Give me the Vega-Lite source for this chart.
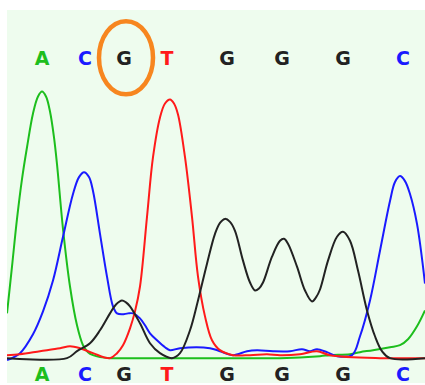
{
  "$schema": "https://vega.github.io/schema/vega-lite/v6.json",
  "width": 425,
  "height": 385,
  "autosize": {"type": "fit", "contains": "padding"},
  "padding": {"left": 7, "top": 10, "right": 0, "bottom": 0},
  "background": "#ffffff",
  "config": {"view": {"stroke": null, "fill": "#EEFCEE"}},
  "datasets": {
    "traces": [
      {"base": "A", "scan": 7, "signal": 45}, {"base": "A", "scan": 12, "signal": 92}, {"base": "A", "scan": 17, "signal": 140},
      {"base": "A", "scan": 22, "signal": 180}, {"base": "A", "scan": 27, "signal": 212}, {"base": "A", "scan": 33, "signal": 246},
      {"base": "A", "scan": 38, "signal": 263}, {"base": "A", "scan": 42, "signal": 268}, {"base": "A", "scan": 46, "signal": 263},
      {"base": "A", "scan": 50, "signal": 248}, {"base": "A", "scan": 54, "signal": 222}, {"base": "A", "scan": 57, "signal": 195},
      {"base": "A", "scan": 63, "signal": 130}, {"base": "A", "scan": 70, "signal": 72}, {"base": "A", "scan": 77, "signal": 33},
      {"base": "A", "scan": 83, "signal": 13}, {"base": "A", "scan": 88, "signal": 6}, {"base": "A", "scan": 93, "signal": 3},
      {"base": "A", "scan": 100, "signal": 1}, {"base": "A", "scan": 110, "signal": 0}, {"base": "A", "scan": 140, "signal": 0},
      {"base": "A", "scan": 220, "signal": 0}, {"base": "A", "scan": 280, "signal": 0}, {"base": "A", "scan": 320, "signal": 2},
      {"base": "A", "scan": 330, "signal": 3}, {"base": "A", "scan": 350, "signal": 4}, {"base": "A", "scan": 360, "signal": 6},
      {"base": "A", "scan": 373, "signal": 8}, {"base": "A", "scan": 390, "signal": 11}, {"base": "A", "scan": 400, "signal": 13},
      {"base": "A", "scan": 408, "signal": 19}, {"base": "A", "scan": 417, "signal": 32}, {"base": "A", "scan": 425, "signal": 48},

      {"base": "C", "scan": 7, "signal": -2}, {"base": "C", "scan": 20, "signal": 5}, {"base": "C", "scan": 33, "signal": 24},
      {"base": "C", "scan": 43, "signal": 47}, {"base": "C", "scan": 53, "signal": 78}, {"base": "C", "scan": 63, "signal": 122},
      {"base": "C", "scan": 73, "signal": 165}, {"base": "C", "scan": 79, "signal": 182}, {"base": "C", "scan": 84, "signal": 187},
      {"base": "C", "scan": 89, "signal": 182}, {"base": "C", "scan": 93, "signal": 168}, {"base": "C", "scan": 100, "signal": 125},
      {"base": "C", "scan": 107, "signal": 82}, {"base": "C", "scan": 113, "signal": 52}, {"base": "C", "scan": 117, "signal": 45},
      {"base": "C", "scan": 122, "signal": 44}, {"base": "C", "scan": 128, "signal": 45}, {"base": "C", "scan": 133, "signal": 45},
      {"base": "C", "scan": 140, "signal": 40}, {"base": "C", "scan": 145, "signal": 33}, {"base": "C", "scan": 150, "signal": 25},
      {"base": "C", "scan": 157, "signal": 18}, {"base": "C", "scan": 165, "signal": 11}, {"base": "C", "scan": 170, "signal": 8},
      {"base": "C", "scan": 180, "signal": 10}, {"base": "C", "scan": 210, "signal": 10}, {"base": "C", "scan": 220, "signal": 7},
      {"base": "C", "scan": 233, "signal": 3}, {"base": "C", "scan": 247, "signal": 7}, {"base": "C", "scan": 257, "signal": 8},
      {"base": "C", "scan": 273, "signal": 7}, {"base": "C", "scan": 290, "signal": 7}, {"base": "C", "scan": 302, "signal": 9},
      {"base": "C", "scan": 310, "signal": 7}, {"base": "C", "scan": 317, "signal": 9}, {"base": "C", "scan": 327, "signal": 6},
      {"base": "C", "scan": 337, "signal": 2}, {"base": "C", "scan": 352, "signal": 3}, {"base": "C", "scan": 360, "signal": 22},
      {"base": "C", "scan": 370, "signal": 58}, {"base": "C", "scan": 380, "signal": 108}, {"base": "C", "scan": 390, "signal": 158},
      {"base": "C", "scan": 395, "signal": 177}, {"base": "C", "scan": 400, "signal": 183}, {"base": "C", "scan": 405, "signal": 178},
      {"base": "C", "scan": 410, "signal": 165}, {"base": "C", "scan": 417, "signal": 135}, {"base": "C", "scan": 425, "signal": 75},

      {"base": "T", "scan": 7, "signal": 3}, {"base": "T", "scan": 20, "signal": 4}, {"base": "T", "scan": 40, "signal": 7},
      {"base": "T", "scan": 60, "signal": 10}, {"base": "T", "scan": 70, "signal": 12}, {"base": "T", "scan": 80, "signal": 10},
      {"base": "T", "scan": 93, "signal": 5}, {"base": "T", "scan": 110, "signal": 0}, {"base": "T", "scan": 117, "signal": 5},
      {"base": "T", "scan": 123, "signal": 13}, {"base": "T", "scan": 130, "signal": 30}, {"base": "T", "scan": 135, "signal": 47},
      {"base": "T", "scan": 140, "signal": 72}, {"base": "T", "scan": 147, "signal": 142}, {"base": "T", "scan": 153, "signal": 202},
      {"base": "T", "scan": 160, "signal": 242}, {"base": "T", "scan": 165, "signal": 256}, {"base": "T", "scan": 170, "signal": 260},
      {"base": "T", "scan": 174, "signal": 256}, {"base": "T", "scan": 178, "signal": 245}, {"base": "T", "scan": 185, "signal": 202},
      {"base": "T", "scan": 192, "signal": 142}, {"base": "T", "scan": 198, "signal": 82}, {"base": "T", "scan": 205, "signal": 42},
      {"base": "T", "scan": 212, "signal": 18}, {"base": "T", "scan": 220, "signal": 8}, {"base": "T", "scan": 233, "signal": 3},
      {"base": "T", "scan": 250, "signal": 3}, {"base": "T", "scan": 267, "signal": 4}, {"base": "T", "scan": 280, "signal": 3},
      {"base": "T", "scan": 300, "signal": 4}, {"base": "T", "scan": 317, "signal": 7}, {"base": "T", "scan": 330, "signal": 3},
      {"base": "T", "scan": 380, "signal": 0}, {"base": "T", "scan": 425, "signal": 0},

      {"base": "G", "scan": 7, "signal": 0}, {"base": "G", "scan": 67, "signal": 0}, {"base": "G", "scan": 77, "signal": 7},
      {"base": "G", "scan": 90, "signal": 15}, {"base": "G", "scan": 100, "signal": 28}, {"base": "G", "scan": 110, "signal": 45},
      {"base": "G", "scan": 116, "signal": 54}, {"base": "G", "scan": 122, "signal": 58}, {"base": "G", "scan": 126, "signal": 56},
      {"base": "G", "scan": 130, "signal": 52}, {"base": "G", "scan": 140, "signal": 35}, {"base": "G", "scan": 150, "signal": 15},
      {"base": "G", "scan": 160, "signal": 5}, {"base": "G", "scan": 172, "signal": 0}, {"base": "G", "scan": 180, "signal": 5},
      {"base": "G", "scan": 190, "signal": 28}, {"base": "G", "scan": 198, "signal": 58}, {"base": "G", "scan": 207, "signal": 95},
      {"base": "G", "scan": 215, "signal": 125}, {"base": "G", "scan": 220, "signal": 136}, {"base": "G", "scan": 225, "signal": 140},
      {"base": "G", "scan": 230, "signal": 137}, {"base": "G", "scan": 235, "signal": 128}, {"base": "G", "scan": 243, "signal": 98},
      {"base": "G", "scan": 250, "signal": 76}, {"base": "G", "scan": 255, "signal": 68}, {"base": "G", "scan": 259, "signal": 70},
      {"base": "G", "scan": 263, "signal": 76}, {"base": "G", "scan": 272, "signal": 102}, {"base": "G", "scan": 280, "signal": 118},
      {"base": "G", "scan": 284, "signal": 120}, {"base": "G", "scan": 288, "signal": 115}, {"base": "G", "scan": 297, "signal": 92},
      {"base": "G", "scan": 305, "signal": 68}, {"base": "G", "scan": 312, "signal": 57}, {"base": "G", "scan": 316, "signal": 61},
      {"base": "G", "scan": 320, "signal": 69}, {"base": "G", "scan": 328, "signal": 98}, {"base": "G", "scan": 337, "signal": 122},
      {"base": "G", "scan": 343, "signal": 127}, {"base": "G", "scan": 350, "signal": 118}, {"base": "G", "scan": 358, "signal": 88},
      {"base": "G", "scan": 367, "signal": 48}, {"base": "G", "scan": 375, "signal": 22}, {"base": "G", "scan": 382, "signal": 7},
      {"base": "G", "scan": 390, "signal": 0}, {"base": "G", "scan": 425, "signal": 0}
    ],
    "calls": [
      {"base": "A", "scan": 42}, {"base": "C", "scan": 85}, {"base": "G", "scan": 124}, {"base": "T", "scan": 167},
      {"base": "G", "scan": 227}, {"base": "G", "scan": 282}, {"base": "G", "scan": 343}, {"base": "C", "scan": 403}
    ],
    "highlight": [
      {"base": "G", "scan": 126}
    ]
  },
  "layer": [
    {
      "data": {"name": "traces"},
      "mark": {"type": "line", "interpolate": "catmull-rom", "strokeWidth": 2, "clip": true},
      "encoding": {
        "x": {"field": "scan", "type": "quantitative", "scale": {"domain": [7, 425], "nice": false, "zero": false}, "axis": null},
        "y": {"field": "signal", "type": "quantitative", "scale": {"domain": [-25, 350], "nice": false, "zero": false}, "axis": null},
        "color": {"field": "base", "type": "nominal", "legend": null,
          "scale": {"domain": ["A", "C", "G", "T"], "range": ["#1DBE1D", "#1A1AFF", "#222222", "#FF1A1A"]}}
      }
    },
    {
      "data": {"name": "calls"},
      "mark": {"type": "text", "font": "DejaVu Sans", "fontSize": 19, "fontWeight": "bold", "baseline": "middle", "align": "center"},
      "encoding": {
        "x": {"field": "scan", "type": "quantitative"},
        "y": {"datum": 301, "type": "quantitative"},
        "text": {"field": "base"},
        "color": {"field": "base", "type": "nominal", "legend": null}
      }
    },
    {
      "data": {"name": "calls"},
      "mark": {"type": "text", "font": "DejaVu Sans", "fontSize": 19, "fontWeight": "bold", "baseline": "middle", "align": "center"},
      "encoding": {
        "x": {"field": "scan", "type": "quantitative"},
        "y": {"datum": -17, "type": "quantitative"},
        "text": {"field": "base"},
        "color": {"field": "base", "type": "nominal", "legend": null}
      }
    },
    {
      "data": {"name": "highlight"},
      "mark": {"type": "point", "shape": "M0,-1A0.74,1,0,1,1,0,1A0.74,1,0,1,1,0,-1Z", "size": 5329, "filled": false, "stroke": "#F7861F", "strokeWidth": 4.5, "opacity": 1},
      "encoding": {
        "x": {"field": "scan", "type": "quantitative"},
        "y": {"datum": 302, "type": "quantitative"}
      }
    }
  ]
}
